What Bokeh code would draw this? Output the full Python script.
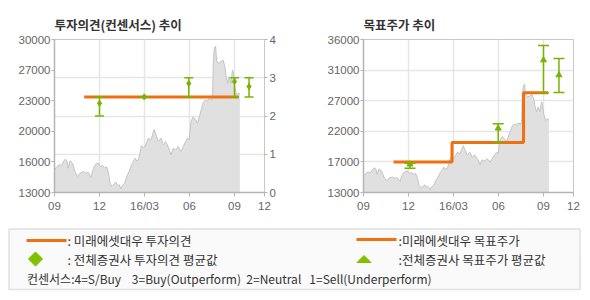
from bokeh.plotting import figure
from bokeh.layouts import column, row
from bokeh.models import (FixedTicker, LinearAxis, Range1d)
from bokeh.core.properties import value
from bokeh.embed import file_html
from bokeh.resources import INLINE

# ---------------- data ----------------
# time axis: months since 2015-09-01
x_ticks = [0, 3, 6, 9, 12, 14]
x_labels = ["09", "12", "16/03", "06", "09", "12"]

price_t = [0.0, 0.16, 0.31, 0.47, 0.60, 0.71, 0.83, 0.91, 1.04, 1.20, 1.36, 1.53, 1.71, 1.93,
           2.09, 2.26, 2.42, 2.60, 2.75, 2.91, 3.04, 3.20, 3.35, 3.47, 3.60, 3.71, 3.82, 3.97,
           4.10, 4.19, 4.33, 4.42, 4.55, 4.68, 4.82, 4.97, 5.12, 5.26, 5.37, 5.48, 5.59, 5.70,
           5.79, 5.92, 6.03, 6.25, 6.43, 6.65, 6.77, 6.92, 7.10, 7.25, 7.41, 7.63, 7.76, 7.92,
           8.08, 8.25, 8.43, 8.58, 8.74, 8.87, 8.98, 9.10, 9.25, 9.41, 9.54, 9.69, 9.81, 9.94,
           10.07, 10.20, 10.31, 10.47, 10.54, 10.58, 10.65, 10.74, 10.80, 10.91, 11.09, 11.24,
           11.36, 11.44, 11.54, 11.64, 11.76, 11.87, 11.93, 12.02, 12.14, 12.24, 12.36]
price = [15520, 15880, 16070, 16000, 16440, 16700, 16520, 15700, 16520, 16260, 15330, 14780,
         15150, 15330, 15150, 15220, 14670, 15700, 16150, 16260, 15880, 16000, 15700, 15880,
         15150, 14040, 13670, 13930, 14150, 13780, 13850, 13410, 13850, 14040, 14780, 15330,
         16000, 16440, 16820, 16520, 16630, 17370, 18210, 18000, 18100, 19030, 18840, 20030,
         19400, 18660, 19030, 18290, 18660, 17920, 17180, 17920, 17740, 18100, 17550, 18100,
         18660, 19030, 18840, 20870, 21430, 21060, 20700, 21620, 22360, 23090, 23280, 23200,
         23470, 23280, 23650, 27160, 29010, 29270, 27720, 27350, 27530, 27720, 26980, 25870,
         25130, 25870, 25130, 26610, 26240, 24760, 23840, 24020, 24020]

# investment opinion (consensus scale 0-4)
opinion_t = [1.98, 12.27]
opinion = [2.5, 2.5]
cons_t = [3.0, 5.98, 8.95, 12.0, 12.97]
cons_avg = [2.33, 2.5, 2.85, 2.9, 2.77]
cons_hi = [2.5, 2.5, 3.0, 3.0, 3.0]
cons_lo = [2.0, 2.5, 2.5, 2.5, 2.5]
cons_ticks = [0, 1, 2, 3, 4]

left_ticks = [13000, 16400, 19800, 23200, 26600, 30000]
left_labels = ["13000", "16000", "20000", "23000", "27000", "30000"]

# target price
target_t = [2.0, 5.9, 10.67, 12.3]
target = [17600, 20500, 28000, 28000]
tgt_avg_t = [3.1, 8.98, 12.0, 13.03]
tgt_avg = [17250, 22650, 32900, 30650]
tgt_hi = [17400, 23350, 35100, 33150]
tgt_lo = [16650, 20500, 28000, 28050]

right_ticks = [13000, 17600, 22200, 26800, 31400, 36000]
right_labels = ["13000", "17000", "22000", "27000", "31000", "36000"]

legend_texts = [": 미래에셋대우 투자의견", ": 전체증권사 투자의견 평균값",
                ":미래에셋대우 목표주가", ":전체증권사 목표주가 평균값"]
note_text = "컨센서스:4=S/Buy    3=Buy(Outperform)  2=Neutral   1=Sell(Underperform)"

ORANGE = "#f07010"
GREEN = "#78b400"
LGREEN = "#80c000"
AREA = "#e0e0e0"
AREA_LINE = "#c4c4c4"
GRID = "#e6e6e6"
FRAME = "#b4b4b4"
LABEL = "#666666"
NUMFONT = "Liberation Sans"
KFONT = "Noto Sans CJK KR"
NB = "\u00a0"


def style_axis(ax, tick_out=3, standoff=2):
    ax.axis_line_color = FRAME
    ax.axis_line_width = 1.5
    ax.major_tick_line_color = FRAME
    ax.major_tick_in = 0
    ax.major_tick_out = tick_out
    ax.minor_tick_line_color = None
    ax.major_label_text_font = NUMFONT
    ax.major_label_text_font_size = "11.5px"
    ax.major_label_text_color = LABEL
    ax.major_label_standoff = standoff


def base_fig(title, left, right, yr):
    p = figure(width=295, height=220, output_backend="svg", toolbar_location=None,
               x_range=Range1d(0, 14), y_range=Range1d(*yr),
               min_border_left=left, min_border_right=right,
               min_border_top=39, min_border_bottom=28)
    p.title.text = title
    p.title.text_font = KFONT
    p.title.text_font_size = "12.5px"
    p.title.text_font_style = "bold"
    p.title.text_color = "#333333"
    p.title.align = "left"
    p.title.standoff = 11
    p.outline_line_color = "#c8c8c8"
    p.outline_line_width = 1
    p.background_fill_color = "white"
    p.border_fill_color = "white"
    p.xaxis.ticker = FixedTicker(ticks=x_ticks)
    p.xaxis.major_label_overrides = {t: l for t, l in zip(x_ticks, x_labels)}
    style_axis(p.xaxis[0], tick_out=4, standoff=3)
    p.xgrid.ticker = FixedTicker(ticks=x_ticks[1:-1])
    p.xgrid.grid_line_color = GRID
    p.xgrid.grid_line_width = 1.5
    return p


# ---------- left chart ----------
p1 = base_fig("투자의견(컨센서스) 추이", 54, 31, (13000, 30000))
p1.yaxis.ticker = FixedTicker(ticks=left_ticks)
p1.yaxis.major_label_overrides = {t: l for t, l in zip(left_ticks, left_labels)}
style_axis(p1.yaxis[0], tick_out=3, standoff=1)
p1.ygrid.ticker = FixedTicker(ticks=[13000 + 17000 * k / 4 for k in cons_ticks[1:-1]])
p1.ygrid.grid_line_color = GRID
p1.ygrid.grid_line_width = 1.5
p1.extra_y_ranges = {"cons": Range1d(0, 4)}
ax_r = LinearAxis(y_range_name="cons", ticker=FixedTicker(ticks=cons_ticks))
style_axis(ax_r, tick_out=3, standoff=2)
ax_r.axis_line_color = "#c8c8c8"
ax_r.axis_line_width = 1
p1.add_layout(ax_r, "right")

p1.varea(x=price_t, y1=[13000] * len(price), y2=price, fill_color=AREA)
p1.line(price_t, price, line_color=AREA_LINE, line_width=1)
p1.line(opinion_t, opinion, y_range_name="cons", line_color=ORANGE, line_width=3)
p1.segment(cons_t, cons_lo, cons_t, cons_hi, y_range_name="cons", line_color=GREEN, line_width=1.5)
p1.scatter(cons_t, cons_hi, y_range_name="cons", marker="dash", size=9, line_color=GREEN, line_width=1.5)
p1.scatter(cons_t, cons_lo, y_range_name="cons", marker="dash", size=9, line_color=GREEN, line_width=1.5)
p1.scatter(cons_t, cons_avg, y_range_name="cons", marker="diamond_cross", size=6,
           fill_color=GREEN, line_color=GREEN, line_width=1)

# ---------- right chart ----------
p2 = base_fig("목표주가 추이", 68, 17, (13000, 36000))
p2.yaxis.ticker = FixedTicker(ticks=right_ticks)
p2.yaxis.major_label_overrides = {t: l for t, l in zip(right_ticks, right_labels)}
style_axis(p2.yaxis[0], tick_out=3, standoff=1)
p2.ygrid.ticker = FixedTicker(ticks=right_ticks[1:-1])
p2.ygrid.grid_line_color = GRID
p2.ygrid.grid_line_width = 1.5

p2.varea(x=price_t, y1=[13000] * len(price), y2=price, fill_color=AREA)
p2.line(price_t, price, line_color=AREA_LINE, line_width=1)
p2.step(target_t, target, mode="after", line_color=ORANGE, line_width=3)
p2.segment(tgt_avg_t, tgt_lo, tgt_avg_t, tgt_hi, line_color=GREEN, line_width=1.5)
p2.scatter(tgt_avg_t, tgt_hi, marker="dash", size=11, line_color=GREEN, line_width=1.5)
p2.scatter(tgt_avg_t, tgt_lo, marker="dash", size=11, line_color=GREEN, line_width=1.5)
p2.scatter(tgt_avg_t, tgt_avg, marker="triangle", size=6, fill_color=GREEN, line_color=GREEN)

# ---------- legend panel ----------
lg = figure(width=590, height=80, output_backend="svg", toolbar_location=None,
            x_range=Range1d(0, 590), y_range=Range1d(80, 0),
            min_border=0, min_border_left=0, min_border_right=0,
            min_border_top=0, min_border_bottom=0)
lg.axis.visible = False
lg.grid.visible = False
lg.outline_line_color = None
lg.background_fill_color = "white"
lg.border_fill_color = "white"
lg.quad(left=[8.5], right=[579.5], top=[8.5], bottom=[69], fill_color="#fafafa",
        line_color="#e0e0e0", line_width=1.5)
lg.segment([26, 356], [20, 19], [66, 396], [20, 19], line_color=ORANGE, line_width=3)
lg.scatter([35], [38.5], marker="square", size=10, angle=0.785398,
           fill_color=LGREEN, line_color=LGREEN)
lg.patch([356.5, 370.5, 363.5], [42, 42, 35], fill_color=LGREEN, line_color=LGREEN)
lg.text(x=[67, 67, 398, 398], y=[20, 38.5, 19.5, 38.5],
        text=[t.replace(" ", NB) for t in legend_texts],
        text_font=value(KFONT), text_font_size="12.5px", text_color="#333333",
        text_baseline="middle", text_align="left")
lg.text(x=[26.5], y=[57.5], text=[note_text.replace(" ", NB)],
        text_font=value(KFONT), text_font_size="12px", text_color="#333333",
        text_baseline="middle", text_align="left")

layout = column(row(p1, p2), lg)
open("out.html", "w").write(file_html(layout, INLINE))
